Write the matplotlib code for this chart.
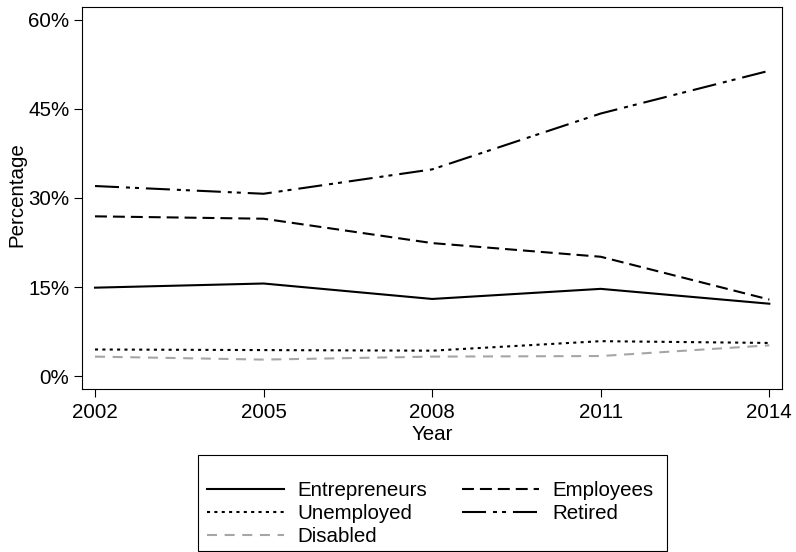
import matplotlib
matplotlib.use("Agg")
import matplotlib.pyplot as plt
from matplotlib.patches import Rectangle

# values (percent)
years = [2002, 2005, 2008, 2011, 2014]
entrepreneurs = [14.9, 15.6, 13.0, 14.7, 12.2]
employees = [26.9, 26.5, 22.4, 20.1, 12.9]
unemployed = [4.5, 4.4, 4.3, 5.9, 5.6]
retired = [32.0, 30.7, 34.8, 44.2, 51.4]
disabled = [3.3, 2.8, 3.3, 3.4, 5.2]

yticks = [0, 15, 30, 45, 60]
ytick_labels = ["0%", "15%", "30%", "45%", "60%"]

fs = 14.8
plt.rcParams["font.family"] = ["Liberation Sans", "DejaVu Sans"]
plt.rcParams["font.size"] = fs
plt.rcParams["lines.scale_dashes"] = False

fig = plt.figure(figsize=(7.96, 5.52), dpi=100)
ax = fig.add_axes([0.1034, 0.2958, 0.8794, 0.6924])

lw = 1.5
h_ent, = ax.plot(years, entrepreneurs, color="black", lw=lw,
                 label="Entrepreneurs")
h_emp, = ax.plot(years, employees, color="black", lw=lw, dashes=(8.6, 4.3),
                 label="Employees")
h_une, = ax.plot(years, unemployed, color="black", lw=lw, dashes=(2.2, 3.1),
                 label="Unemployed")
h_ret, = ax.plot(years, retired, color="black", lw=lw,
                 dashes=(17.3, 5.0, 2.9, 3.6, 2.9, 5.0), label="Retired")
h_dis, = ax.plot(years, disabled, color="#a6a6a6", lw=lw, dashes=(7.2, 5.5),
                 label="Disabled")

ax.set_xlim(2001.774, 2014.231)
ax.set_ylim(-2.1, 62.2)
ax.set_xticks(years)
ax.set_yticks(yticks)
ax.set_yticklabels(ytick_labels)
ax.tick_params(direction="out", length=5.8, width=0.8, color="black",
               labelsize=fs)
ax.tick_params(axis="x", pad=4.4)
ax.tick_params(axis="y", pad=3.6)
for s in ax.spines.values():
    s.set_linewidth(0.8)

ax.set_ylabel("Percentage", fontsize=fs)
ax.yaxis.set_label_coords(-0.0804, 0.507)
ax.set_xlabel("Year", fontsize=fs)
ax.xaxis.set_label_coords(0.5, -0.095)

# legend frame drawn separately (Stata-style box below the plot)
fig.patches.append(Rectangle((198.3 / 796, 1.5 / 552), 468.4 / 796,
                             (550.5 - 455.3) / 552, transform=fig.transFigure,
                             fill=False, edgecolor="black", lw=0.8))
# column-major order so rows read Entrepreneurs/Employees, Unemployed/Retired
fig.legend([h_ent, h_une, h_dis, h_emp, h_ret],
           ["Entrepreneurs", "Unemployed", "Disabled", "Employees", "Retired"],
           loc="upper left", bbox_to_anchor=(207 / 796, 1 - 481.5 / 552),
           ncol=2, frameon=False, fontsize=fs, borderpad=0, borderaxespad=0,
           handlelength=3.75, handletextpad=0.63, columnspacing=1.72,
           labelspacing=0.19)

fig.savefig("out.png", dpi=100)
